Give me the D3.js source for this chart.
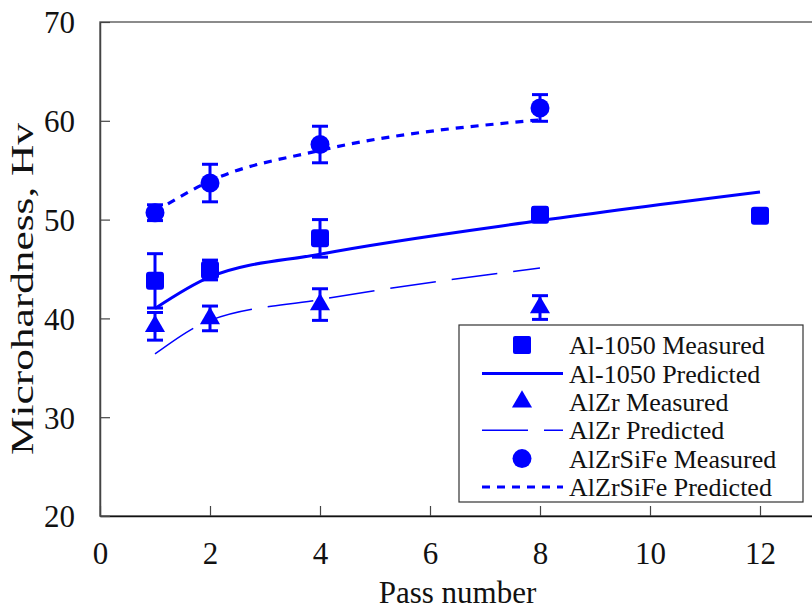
<!DOCTYPE html>
<html>
<head>
<meta charset="utf-8">
<script src="https://cdn.jsdelivr.net/npm/d3@7"></script>
<style>
  body { margin: 0; background: #fff; }
  svg text { font-family: "Liberation Serif", "Times New Roman", serif; fill: #111; }
</style>
</head>
<body>
<div id="grafico"></div>
<script>
// pass numbers
const passes = [1, 2, 4, 8, 12];
const passes8 = [1, 2, 4, 8];

// measured values and error bars
const al1050Medido = [43.8, 44.9, 48.1, 50.5, 50.4];
const al1050Error = [2.75, 1.0, 1.9, 0.7, 0];
const alzrMedido = [39.2, 40.0, 41.4, 41.1];
const alzrError = [1.4, 1.25, 1.6, 1.2];
const alzrsifeMedido = [50.7, 53.7, 57.6, 61.3];
const alzrsifeError = [0.8, 1.9, 1.85, 1.35];

// predicted curves
const al1050Predicho = [41.0, 44.2, 46.5, 49.9, 52.8];
const alzrPredicho = [36.4, 39.8, 41.9, 45.1];
const alzrsifePredicho = [50.8, 53.9, 57.0, 60.1];

const xTicks = [0, 2, 4, 6, 8, 10, 12];
const yTicks = [20, 30, 40, 50, 60, 70];

const leyenda = ["Al-1050 Measured", "Al-1050 Predicted", "AlZr Measured",
                 "AlZr Predicted", "AlZrSiFe Measured", "AlZrSiFe Predicted"];

function crearGrafico() {
    const W = 812, H = 609;
    const azul = "#0000ff";
    const svg = d3.select("#grafico")
        .append("svg")
        .attr("width", W)
        .attr("height", H);

    const x = d3.scaleLinear().domain([0, 13]).range([100, 815]);
    const y = d3.scaleLinear().domain([20, 70]).range([516, 22]);

    // frame (right side falls outside the picture)
    svg.append("rect")
        .attr("x", x(0)).attr("y", y(70))
        .attr("width", x(13) - x(0)).attr("height", y(20) - y(70))
        .attr("fill", "none")
        .attr("stroke", "#666")
        .attr("stroke-width", 1.5);

    const ejeX = svg.append("g")
        .attr("transform", `translate(0,${y(20)})`)
        .call(d3.axisBottom(x).tickValues(xTicks).tickSizeInner(-10).tickSizeOuter(0).tickPadding(26));
    ejeX.select(".domain").attr("stroke", "#111").attr("stroke-width", 1.5);
    ejeX.selectAll(".tick line").attr("stroke", "#444").attr("stroke-width", 1.2);
    ejeX.selectAll(".tick text").attr("font-size", 31).attr("fill", "#111");

    const ejeY = svg.append("g")
        .attr("transform", `translate(${x(0)},0)`)
        .call(d3.axisLeft(y).tickValues(yTicks).tickSizeInner(-10).tickSizeOuter(0).tickPadding(25));
    ejeY.select(".domain").attr("stroke", "#444").attr("stroke-width", 1.5);
    ejeY.selectAll(".tick line").attr("stroke", "#444").attr("stroke-width", 1.2);
    ejeY.selectAll(".tick text").attr("font-size", 31).attr("fill", "#111").attr("dy", "0.35em");

    svg.append("text")
        .attr("x", x(6.5)).attr("y", 603)
        .attr("text-anchor", "middle")
        .attr("font-size", 31)
        .text("Pass number");

    svg.append("text")
        .attr("transform", "translate(33,289) rotate(-90)")
        .attr("text-anchor", "middle")
        .attr("font-size", 31)
        .attr("textLength", 332)
        .attr("lengthAdjust", "spacingAndGlyphs")
        .text("Microhardness, Hv");

    const linea = d3.line().x(d => x(d[0])).y(d => y(d[1])).curve(d3.curveMonotoneX);

    svg.append("path")
        .datum(d3.zip(passes, al1050Predicho))
        .attr("d", linea)
        .attr("fill", "none").attr("stroke", azul).attr("stroke-width", 3);
    svg.append("path")
        .datum(d3.zip(passes8, alzrPredicho))
        .attr("d", linea)
        .attr("fill", "none").attr("stroke", azul).attr("stroke-width", 1.5)
        .attr("stroke-dasharray", "46,16");
    svg.append("path")
        .datum(d3.zip(passes8, alzrsifePredicho))
        .attr("d", linea)
        .attr("fill", "none").attr("stroke", azul).attr("stroke-width", 3.2)
        .attr("stroke-dasharray", "8,7");

    // error bars
    function barras(xs, vals, errs) {
        const datos = d3.zip(xs, vals, errs).filter(d => d[2] > 0);
        const g = svg.append("g").attr("stroke", azul).attr("stroke-width", 3);
        g.selectAll(".v").data(datos).enter().append("line")
            .attr("x1", d => x(d[0])).attr("x2", d => x(d[0]))
            .attr("y1", d => y(d[1] - d[2])).attr("y2", d => y(d[1] + d[2]));
        g.selectAll(".top").data(datos).enter().append("line")
            .attr("x1", d => x(d[0]) - 8).attr("x2", d => x(d[0]) + 8)
            .attr("y1", d => y(d[1] + d[2])).attr("y2", d => y(d[1] + d[2]));
        g.selectAll(".bot").data(datos).enter().append("line")
            .attr("x1", d => x(d[0]) - 8).attr("x2", d => x(d[0]) + 8)
            .attr("y1", d => y(d[1] - d[2])).attr("y2", d => y(d[1] - d[2]));
    }
    barras(passes, al1050Medido, al1050Error);
    barras(passes8, alzrMedido, alzrError);
    barras(passes8, alzrsifeMedido, alzrsifeError);

    const tri = d3.symbol().type(d3.symbolTriangle).size(175);

    svg.selectAll(".cuadro")
        .data(d3.zip(passes, al1050Medido))
        .enter().append("rect")
        .attr("x", d => x(d[0]) - 9).attr("y", d => y(d[1]) - 9)
        .attr("width", 18).attr("height", 18).attr("rx", 3)
        .attr("fill", azul);
    svg.selectAll(".tri")
        .data(d3.zip(passes8, alzrMedido))
        .enter().append("path")
        .attr("d", tri)
        .attr("transform", d => `translate(${x(d[0])},${y(d[1])})`)
        .attr("fill", azul);
    svg.selectAll(".circ")
        .data(d3.zip(passes8, alzrsifeMedido))
        .enter().append("circle")
        .attr("cx", d => x(d[0])).attr("cy", d => y(d[1]))
        .attr("r", 9.5)
        .attr("fill", azul);

    // legend
    const ley = svg.append("g");
    ley.append("rect")
        .attr("x", 459).attr("y", 325).attr("width", 344).attr("height", 177)
        .attr("fill", "#fff").attr("stroke", "#333").attr("stroke-width", 1.2);
    const filas = leyenda.map((t, i) => ({ t: t, i: i, cy: 345 + i * 28.4 }));
    ley.selectAll("text").data(filas).enter().append("text")
        .attr("x", 569).attr("y", d => d.cy)
        .attr("dy", "0.35em")
        .attr("font-size", 26)
        .text(d => d.t);

    ley.append("rect").attr("x", 513).attr("y", filas[0].cy - 9)
        .attr("width", 18).attr("height", 18).attr("rx", 2).attr("fill", azul);
    ley.append("line").attr("x1", 482).attr("x2", 563)
        .attr("y1", filas[1].cy).attr("y2", filas[1].cy)
        .attr("stroke", azul).attr("stroke-width", 3);
    ley.append("path").attr("d", tri)
        .attr("transform", `translate(522,${filas[2].cy})`).attr("fill", azul);
    ley.append("line").attr("x1", 482).attr("x2", 563)
        .attr("y1", filas[3].cy).attr("y2", filas[3].cy)
        .attr("stroke", azul).attr("stroke-width", 1.5).attr("stroke-dasharray", "46,16");
    ley.append("circle").attr("cx", 522).attr("cy", filas[4].cy)
        .attr("r", 9.5).attr("fill", azul);
    ley.append("line").attr("x1", 482).attr("x2", 563)
        .attr("y1", filas[5].cy).attr("y2", filas[5].cy)
        .attr("stroke", azul).attr("stroke-width", 3.2).attr("stroke-dasharray", "8,7");
}

crearGrafico();
</script>
</body>
</html>
